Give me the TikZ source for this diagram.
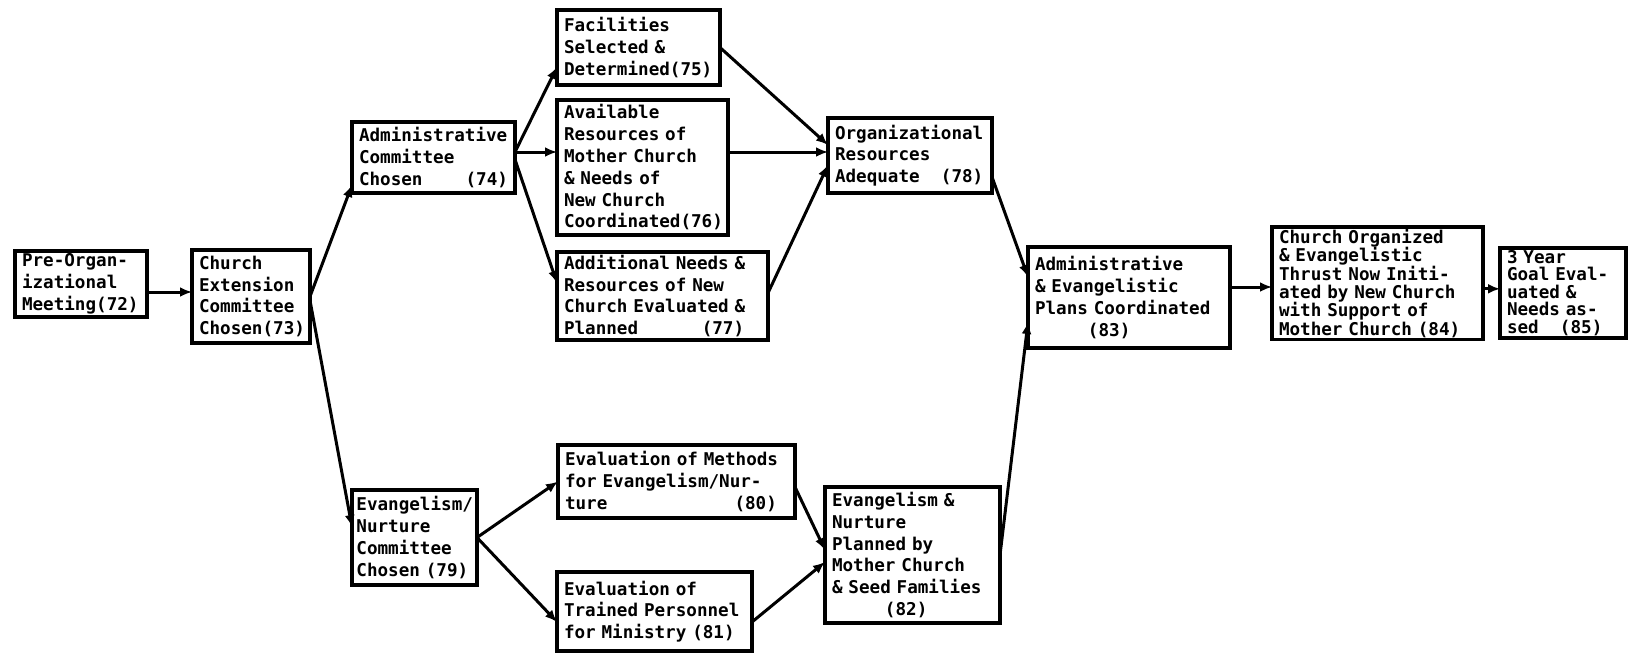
\documentclass[tikz,border=0pt]{standalone}
\usepackage{fontspec}
\newfontfamily\boxfont{DejaVu Sans Mono}
\usetikzlibrary{arrows.meta}
\begin{document}
\begin{tikzpicture}[x=0.5pt,y=-0.5pt,
  box/.style={draw, line width=1.6pt, outer sep=0pt, anchor=north west,
    align=left, inner xsep=3.5pt, inner ysep=1pt,
    font=\boxfont\bfseries\fontsize{8.8}{10.9}\selectfont},
  tight/.style={font=\boxfont\bfseries\fontsize{8.8}{9.2}\selectfont},
  tighter/.style={font=\boxfont\bfseries\fontsize{8.8}{8.8}\selectfont},
  link/.style={line width=1.5pt, -{Latex[length=6pt,width=5pt]}}]
\useasboundingbox (0,0) rectangle (1628,653);

% activity boxes
\node[box, text width=59pt, minimum width=66pt, minimum height=33pt] (n72) at (15,251)
  {Pre-Organ-\\izational\\Meeting(72)};
\node[box, text width=52pt, minimum width=59pt, minimum height=46.5pt] (n73) at (192,250)
  {Church\\Extension\\Committee\\Chosen(73)};
\node[box, text width=74.5pt, minimum width=81.5pt, minimum height=35.5pt] (n74) at (352,122)
  {Administrative\\Committee\\Chosen\hfill(74)};
\node[box, text width=74.5pt, minimum width=81.5pt, minimum height=37.5pt] (n75) at (557,10)
  {Facilities\\Selected \&\\Determined(75)};
\node[box, text width=78.5pt, minimum width=85.5pt, minimum height=67.5pt] (n76) at (557,100)
  {Available\\Resources of\\Mother Church\\\& Needs of\\New Church\\Coordinated(76)};
\node[box, text width=98.5pt, minimum width=105.5pt, minimum height=44pt] (n77) at (557,252)
  {Additional Needs \&\\Resources of New\\Church Evaluated \&\\Planned\phantom{000000}(77)};
\node[box, text width=75pt, minimum width=82pt, minimum height=37.5pt] (n78) at (828,118)
  {Organizational\\Resources\\Adequate\phantom{00}(78)};
\node[box, text width=58.1pt, inner xsep=2.2pt, minimum width=62.5pt, minimum height=47.5pt] (n79) at (352,490)
  {Evangelism/\\Nurture\\Committee\\Chosen~(79)};
\node[box, text width=111.5pt, minimum width=118.5pt, minimum height=36.5pt] (n80) at (558,445)
  {Evaluation of Methods\\for Evangelism/Nur-\\ture\phantom{000000000000}(80)};
\node[box, text width=90.5pt, minimum width=97.5pt, minimum height=39.5pt] (n81) at (557,572)
  {Evaluation of\\Trained Personnel\\for Ministry (81)};
\node[box, text width=80.5pt, minimum width=87.5pt, minimum height=68pt] (n82) at (825,487)
  {Evangelism \&\\Nurture\\Planned by\\Mother Church\\\& Seed Families\\\phantom{00000}(82)};
\node[box, text width=94pt, minimum width=101pt, minimum height=50.5pt] (n83) at (1028,247)
  {Administrative\\\& Evangelistic\\Plans Coordinated\\\phantom{00000}(83)};
\node[box, tight, text width=98.5pt, minimum width=105.5pt, minimum height=55.5pt] (n84) at (1272,227)
  {Church Organized\\\& Evangelistic\\Thrust Now Initi-\\ated by New Church\\with Support of\\Mother Church (84)};
\node[box, tighter, text width=56pt, minimum width=63pt, minimum height=45pt] (n85) at (1500,248)
  {3 Year\\Goal Eval-\\uated \&\\Needs as-\\sed\phantom{00}(85)};

% connectors
\draw[link] ([yshift=-4pt]n72.east) -- ([yshift=-4pt]n72.east -| n73.west);
\draw[link] (n73.east) -- ([yshift=-13.75pt]n74.west);
\draw[link] ([yshift=-2pt]n73.east) -- ([yshift=5.25pt]n79.west);
\draw[link] ([yshift=2.75pt]n74.east) -- ([yshift=-9.75pt]n75.west);
\draw[link] ([yshift=2.75pt]n74.east) -- ([yshift=2.75pt]n74.east -| n76.west);
\draw[link] ([yshift=-1pt]n74.east) -- ([yshift=6.5pt]n77.west);
\draw[link] (n75.east) -- ([yshift=5.25pt]n78.west);
\draw[link] ([yshift=7.75pt]n76.east) -- ([yshift=7.75pt]n76.east -| n78.west);
\draw[link] ([yshift=1.5pt]n77.east) -- ([yshift=-4.75pt]n78.west);
\draw[link] ([yshift=-10.75pt]n78.east) -- ([yshift=10.25pt]n83.west);
\draw[link] (n82.east) -- ([yshift=-12.25pt]n83.west);
\draw[link] ([yshift=5.25pt]n83.east) -- ([yshift=5.25pt]n83.east -| n84.west);
\draw[link] ([yshift=-2.75pt]n84.east) -- ([yshift=-2.75pt]n84.east -| n85.west);
\draw[link] (n79.east) -- (n80.west);
\draw[link] (n79.east) -- ([yshift=-5.25pt]n81.west);
\draw[link] ([yshift=-2.75pt]n80.east) -- ([yshift=2.5pt]n82.west);
\draw[link] ([yshift=-5.25pt]n81.east) -- ([yshift=-3.5pt]n82.west);
\end{tikzpicture}
\end{document}
